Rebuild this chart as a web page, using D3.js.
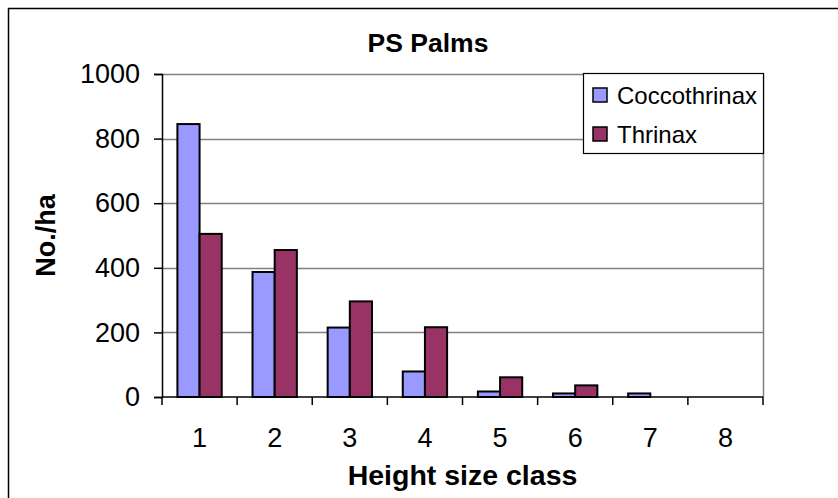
<!DOCTYPE html>
<html>
<head>
<meta charset="utf-8">
<script src="https://cdn.jsdelivr.net/npm/d3@7"></script>
<style>
  body { margin: 0; background: #fff; }
  text { font-family: "Liberation Sans", Arial, sans-serif; fill: #000; }
</style>
</head>
<body>
<svg id="chart" width="838" height="498"></svg>
<script>
// data
var classes = ["1", "2", "3", "4", "5", "6", "7", "8"];
var series = ["Coccothrinax", "Thrinax"];
var coccothrinax = [845, 387, 215, 79, 17, 11, 11, 0];
var thrinax = [505, 455, 296, 216, 61, 36, 0, 0];
var yTicks = [0, 200, 400, 600, 800, 1000];

var colors = ["#9999ff", "#993366"];

var width = 838, height = 498;
var margin = { top: 74, right: 75, bottom: 101, left: 162 };
var w = 763 - margin.left, h = 397 - margin.top;

var svg = d3.select("#chart");

// outer chart frame (right and bottom edges fall outside the picture)
svg.append("rect")
  .attr("x", 8.5).attr("y", 8.5)
  .attr("width", 840).attr("height", 500)
  .attr("fill", "none").attr("stroke", "#000").attr("stroke-width", 1.5);

var g = svg.append("g")
  .attr("transform", "translate(" + margin.left + "," + margin.top + ")");

var x0 = d3.scaleBand().domain(classes).range([0, w]).paddingInner(0.41).paddingOuter(0.205);
var x1 = d3.scaleBand().domain(series).range([0, x0.bandwidth()]);
var y = d3.scaleLinear().domain([0, 1000]).range([h, 0]);

// gridlines
g.append("g")
  .selectAll("line")
  .data(yTicks.filter(function(d) { return d > 0; }))
  .enter().append("line")
  .attr("x1", 0).attr("x2", w)
  .attr("y1", function(d) { return Math.round(y(d)) + 0.5; })
  .attr("y2", function(d) { return Math.round(y(d)) + 0.5; })
  .attr("stroke", "#808080").attr("stroke-width", 1.5);

// plot area right border
g.append("line")
  .attr("x1", w + 0.5).attr("x2", w + 0.5)
  .attr("y1", 0).attr("y2", h)
  .attr("stroke", "#808080").attr("stroke-width", 1.5);

// bars
var values = [coccothrinax, thrinax];
var rows = [];
classes.forEach(function(c, i) {
  series.forEach(function(s, j) {
    rows.push({ cls: c, s: s, v: values[j][i], j: j });
  });
});

g.append("g")
  .selectAll("rect")
  .data(rows.filter(function(d) { return d.v > 0; }))
  .enter().append("rect")
  .attr("x", function(d) { return x0(d.cls) + x1(d.s); })
  .attr("y", function(d) { return y(d.v); })
  .attr("width", x1.bandwidth())
  .attr("height", function(d) { return h - y(d.v); })
  .attr("fill", function(d) { return colors[d.j]; })
  .attr("stroke", "#000").attr("stroke-width", 2);

// y axis
var yAxis = d3.axisLeft(y).tickValues(yTicks).tickFormat(d3.format("d"))
  .tickSizeOuter(0).tickSize(8).tickPadding(14);
var ya = g.append("g").call(yAxis);
ya.select(".domain").attr("stroke", "#000").attr("stroke-width", 1.5);
ya.selectAll(".tick line").attr("stroke", "#000").attr("stroke-width", 1.5);
ya.selectAll("text").style("font-size", "27px").attr("fill", "#000");

// x axis: ticks at category boundaries, labels at centres
var xa = g.append("g").attr("transform", "translate(0," + h + ")");
xa.append("line").attr("x1", 0).attr("x2", w).attr("stroke", "#000").attr("stroke-width", 1.5);
var step = x0.step();
xa.selectAll(".bt")
  .data(d3.range(classes.length + 1))
  .enter().append("line")
  .attr("x1", function(i) { return i * step; })
  .attr("x2", function(i) { return i * step; })
  .attr("y1", 0).attr("y2", 8)
  .attr("stroke", "#000").attr("stroke-width", 1.5);
xa.selectAll(".lab")
  .data(classes)
  .enter().append("text")
  .attr("x", function(d) { return x0(d) + x0.bandwidth() / 2; })
  .attr("y", 50)
  .attr("text-anchor", "middle")
  .style("font-size", "27px")
  .text(function(d) { return d; });

// titles
svg.append("text")
  .attr("x", 428).attr("y", 52)
  .attr("text-anchor", "middle")
  .style("font-size", "26.5px").style("font-weight", "bold")
  .text("PS Palms");

svg.append("text")
  .attr("x", margin.left + w / 2).attr("y", 485)
  .attr("text-anchor", "middle")
  .style("font-size", "28.5px").style("font-weight", "bold")
  .text("Height size class");

svg.append("text")
  .attr("transform", "translate(55," + (margin.top + h / 2) + ") rotate(-90)")
  .attr("text-anchor", "middle")
  .style("font-size", "27px").style("font-weight", "bold")
  .text("No./ha");

// legend
var lg = svg.append("g").attr("transform", "translate(583,73)");
lg.append("rect")
  .attr("x", 0.5).attr("y", 0.5).attr("width", 180).attr("height", 80)
  .attr("fill", "#fff").attr("stroke", "#000").attr("stroke-width", 1.2);
series.forEach(function(s, i) {
  var yy = 22 + i * 39;
  lg.append("rect")
    .attr("x", 10).attr("y", yy - 7).attr("width", 14).attr("height", 14)
    .attr("fill", colors[i]).attr("stroke", "#000").attr("stroke-width", 1.5);
  lg.append("text")
    .attr("x", 34).attr("y", yy + 9)
    .style("font-size", "24px")
    .text(s);
});
</script>
</body>
</html>
